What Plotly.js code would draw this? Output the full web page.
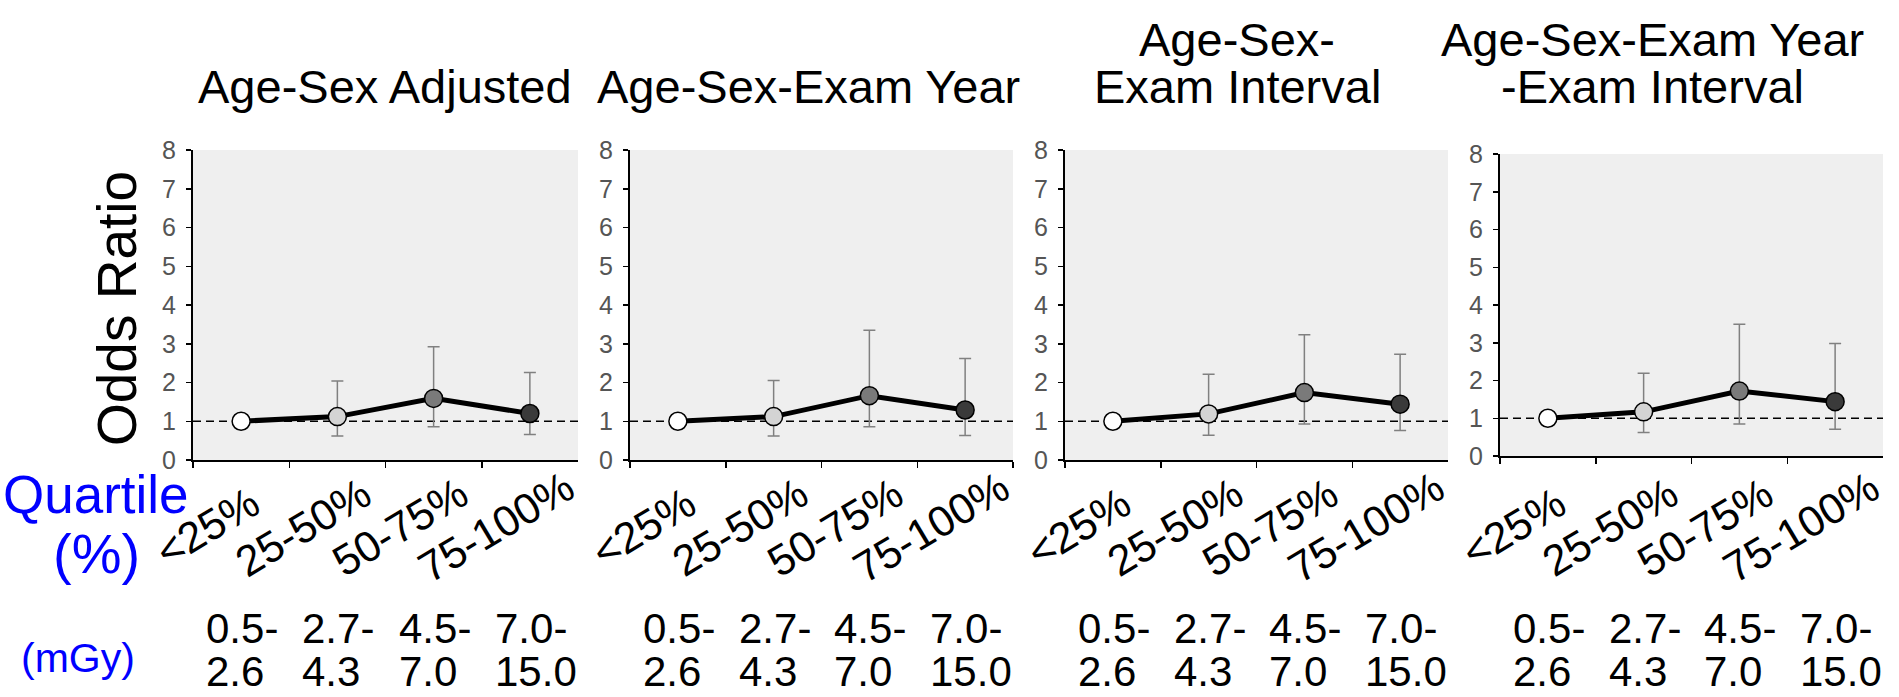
<!DOCTYPE html>
<html>
<head>
<meta charset="utf-8">
<script src="https://cdn.plot.ly/plotly-3.0.1.min.js"></script>
<style>html,body{margin:0;padding:0;background:#fff;}#chart{width:1899px;height:697px;}</style>
</head>
<body>
<div id="chart"></div>
<script>
// ---- data ----
const categories = ['<25%', '25-50%', '50-75%', '75-100%'];
const mgyLow  = ['0.5-', '2.7-', '4.5-', '7.0-'];
const mgyHigh = ['2.6', '4.3', '7.0', '15.0'];

const titleAgeSex       = ['Age-Sex Adjusted'];
const titleExamYear     = ['Age-Sex-Exam Year'];
const titleExamInterval = ['Age-Sex-', 'Exam Interval'];
const titleAll          = ['Age-Sex-Exam Year', '-Exam Interval'];

const orAgeSex   = [1.00, 1.12, 1.59, 1.20];
const loAgeSex   = [null, 0.62, 0.86, 0.66];
const hiAgeSex   = [null, 2.04, 2.92, 2.26];

const orExamYear = [1.00, 1.12, 1.66, 1.29];
const loExamYear = [null, 0.62, 0.86, 0.63];
const hiExamYear = [null, 2.05, 3.35, 2.62];

const orInterval = [1.00, 1.19, 1.74, 1.44];
const loInterval = [null, 0.64, 0.93, 0.76];
const hiInterval = [null, 2.21, 3.23, 2.73];

const orAll      = [1.00, 1.17, 1.72, 1.44];
const loAll      = [null, 0.62, 0.85, 0.71];
const hiAll      = [null, 2.19, 3.49, 2.98];

const markerColors = ['#ffffff', '#d4d4d4', '#7a7a7a', '#3a3a3a'];

// ---- layout helpers ----
const W = 1899, H = 697;
const FONT = 'Arial, "Liberation Sans", sans-serif';
const px = v => v / W;
const py = v => 1 - v / H;

const panels = [
  {titles: titleAgeSex,       or: orAgeSex,   lo: loAgeSex,   hi: hiAgeSex,   xd: [193, 578],  yd: [150, 460], tx: 385},
  {titles: titleExamYear,     or: orExamYear, lo: loExamYear, hi: hiExamYear, xd: [630, 1013], yd: [150, 460], tx: 808},
  {titles: titleExamInterval, or: orInterval, lo: loInterval, hi: hiInterval, xd: [1065, 1448], yd: [150, 460], tx: 1237},
  {titles: titleAll,          or: orAll,      lo: loAll,      hi: hiAll,      xd: [1500, 1883], yd: [154, 456], tx: 1652}
];

const traces = [];
const layout = {
  width: W, height: H,
  margin: {l: 0, r: 0, t: 0, b: 0},
  paper_bgcolor: '#ffffff',
  plot_bgcolor: '#efefef',
  showlegend: false,
  font: {family: FONT, color: '#000'},
  annotations: [],
  shapes: []
};

panels.forEach((p, i) => {
  const n = i + 1;
  const xa = 'x' + (n === 1 ? '' : n), ya = 'y' + (n === 1 ? '' : n);
  const xk = 'xaxis' + (n === 1 ? '' : n), yk = 'yaxis' + (n === 1 ? '' : n);

  traces.push({
    type: 'scatter', mode: 'lines+markers',
    x: categories, y: p.or, xaxis: xa, yaxis: ya,
    line: {color: '#000', width: 5},
    marker: {size: 18, color: markerColors, line: {color: '#000', width: 1.5}},
    error_y: {
      type: 'data', symmetric: false,
      array: p.or.map((v, k) => p.hi[k] == null ? null : p.hi[k] - v),
      arrayminus: p.or.map((v, k) => p.lo[k] == null ? null : v - p.lo[k]),
      color: '#808080', thickness: 1.5, width: 6
    },
    hoverinfo: 'skip'
  });

  layout[xk] = {
    domain: [px(p.xd[0]), px(p.xd[1])],
    anchor: ya, type: 'category', range: [-0.5, 3.5],
    tickson: 'boundaries', ticks: 'outside', ticklen: 6, tickwidth: 1.5, tickcolor: '#000',
    showline: true, linecolor: '#000', linewidth: 2,
    showticklabels: false, showgrid: false, zeroline: false, fixedrange: true
  };
  layout[yk] = {
    domain: [py(p.yd[1]), py(p.yd[0])],
    anchor: xa, range: [0, 8], dtick: 1, tick0: 0,
    ticks: 'outside', ticklen: 5, tickwidth: 1.5, tickcolor: '#000',
    ticklabelstandoff: 5,
    showline: true, linecolor: '#000', linewidth: 2,
    tickfont: {family: FONT, size: 25, color: '#555'},
    showgrid: false, zeroline: false, fixedrange: true
  };

  // reference line at OR = 1
  layout.shapes.push({
    type: 'line', layer: 'below',
    xref: xa + ' domain', x0: 0, x1: 1,
    yref: ya, y0: 1, y1: 1,
    line: {color: '#000', width: 1.5, dash: '8px,5px'}
  });

  // panel titles
  const tl = p.titles.length;
  p.titles.forEach((t, k) => {
    const yc = 87 - (tl - 1 - k) * 47;
    layout.annotations.push({
      text: t, xref: 'paper', yref: 'paper',
      x: px(p.tx), y: py(yc), xanchor: 'center', yanchor: 'middle',
      showarrow: false, font: {family: FONT, size: 47, color: '#000'}
    });
  });

  // rotated quartile labels
  categories.forEach(c => {
    layout.annotations.push({
      text: c, xref: xa, yref: 'paper', x: c, y: py(527), xshift: -34,
      xanchor: 'center', yanchor: 'middle', textangle: -31,
      showarrow: false, font: {family: FONT, size: 43, color: '#000'}
    });
  });

  // mGy ranges
  categories.forEach((c, k) => {
    layout.annotations.push({
      text: mgyLow[k], xref: xa, yref: 'paper', x: c, y: py(628), xshift: -37,
      xanchor: 'left', yanchor: 'middle', showarrow: false,
      font: {family: FONT, size: 42, color: '#000'}
    });
    layout.annotations.push({
      text: mgyHigh[k], xref: xa, yref: 'paper', x: c, y: py(671), xshift: -37,
      xanchor: 'left', yanchor: 'middle', showarrow: false,
      font: {family: FONT, size: 42, color: '#000'}
    });
  });
});

// side labels
layout.annotations.push(
  {text: 'Odds Ratio', xref: 'paper', yref: 'paper', x: px(117), y: py(309),
   xanchor: 'center', yanchor: 'middle', textangle: -90, showarrow: false,
   font: {family: FONT, size: 55, color: '#000'}},
  {text: 'Quartile', xref: 'paper', yref: 'paper', x: px(96), y: py(494),
   xanchor: 'center', yanchor: 'middle', showarrow: false,
   font: {family: FONT, size: 53, color: '#0000ff'}},
  {text: '(%)', xref: 'paper', yref: 'paper', x: px(96), y: py(553),
   xanchor: 'center', yanchor: 'middle', showarrow: false,
   font: {family: FONT, size: 56, color: '#0000ff'}},
  {text: '(mGy)', xref: 'paper', yref: 'paper', x: px(78), y: py(658),
   xanchor: 'center', yanchor: 'middle', showarrow: false,
   font: {family: FONT, size: 41, color: '#0000ff'}}
);

Plotly.newPlot('chart', traces, layout, {displayModeBar: false, staticPlot: true});
</script>
</body>
</html>
